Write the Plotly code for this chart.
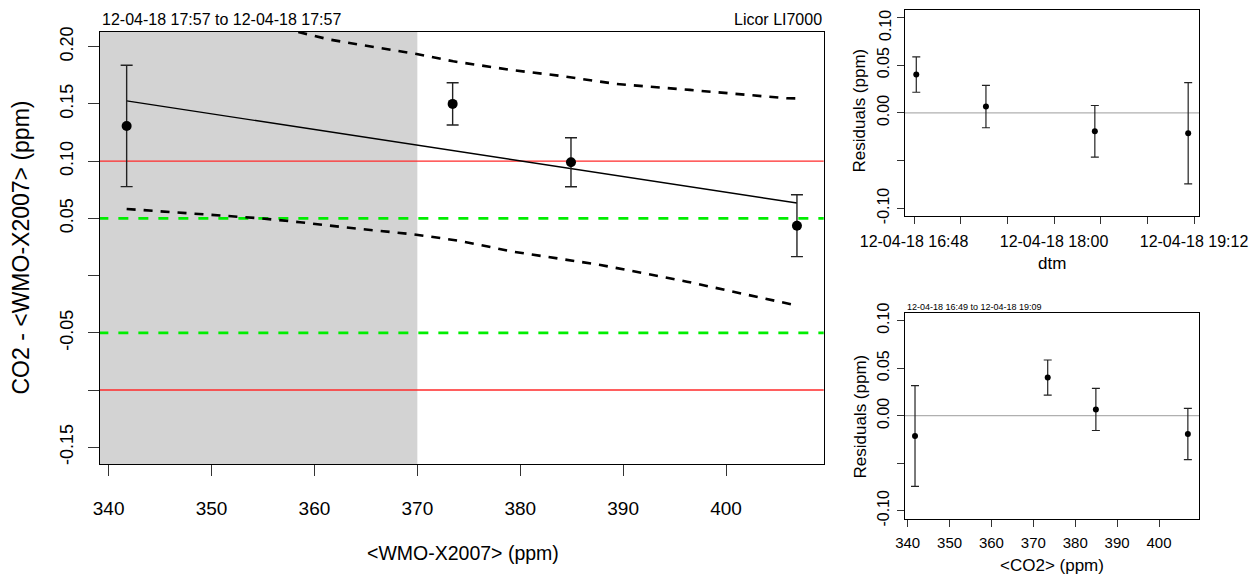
import plotly.graph_objects as go

OFF = 8                      # page body margin
W, H = 1260 - OFF, 574 - OFF

# ---- data ----
co2 = [341.75, 373.43, 384.93, 406.89]
diff = [0.1307, 0.1500, 0.0990, 0.0436]
diff_err = [0.0530, 0.0185, 0.0214, 0.0270]

fit_x = [341.75, 406.89]
fit_y = [0.1526, 0.0634]

upper_x = [358.43, 361.51, 364.74, 369.93, 373.49, 379.32, 383.69, 389.37, 396.49, 405.89, 406.89]
upper_y = [0.2128, 0.2061, 0.2012, 0.1936, 0.1872, 0.1794, 0.1747, 0.1674, 0.1622, 0.1549, 0.1548]
lower_x = [341.75, 347.6, 351.5, 354.7, 358.6, 363.8, 369.6, 374.0, 379.3, 387.8, 396.2, 406.9]
lower_y = [0.0582, 0.0545, 0.0524, 0.0501, 0.0466, 0.0413, 0.0361, 0.0305, 0.0209, 0.0093, -0.0053, -0.0262]

red_limits = [0.10, -0.10]
green_limits = [0.05, -0.05]
shade_until = 370

times = ["2018-04-12 19:09:00", "2018-04-12 16:49:10", "2018-04-12 17:25:00", "2018-04-12 18:21:00"]
resid = [-0.0213, 0.0401, 0.0066, -0.0193]
resid_err = [0.0530, 0.0185, 0.0222, 0.0270]

main_xticks = [340, 350, 360, 370, 380, 390, 400]
main_yticks = [0.20, 0.15, 0.10, 0.05, 0.00, -0.05, -0.10, -0.15]
main_yticktext = ["0.20", "0.15", "0.10", "0.05", "", "-0.05", "", "-0.15"]
res_yticks = [0.10, 0.05, 0.00, -0.05, -0.10]
res_yticktext = ["0.10", "0.05", "0.00", "", "-0.10"]
res_top_yticktext = ["", "0.05", "0.00", "", "-0.10"]   # top label drawn separately (page edge)
time_ticks = ["2018-04-12 16:48", "2018-04-12 17:12", "2018-04-12 17:36", "2018-04-12 18:00",
              "2018-04-12 18:24", "2018-04-12 18:48", "2018-04-12 19:12"]
time_ticktext = ["12-04-18 16:48", "", "", "12-04-18 18:00", "", "", "12-04-18 19:12"]
co2_ticks = [340, 350, 360, 370, 380, 390, 400]

FONT = "Liberation Sans, Arial, Helvetica, sans-serif"
ERRC = "#222222"

def px(x):
    return (x - OFF) / W

def py(y):
    return 1 - (y - OFF) / H

fig = go.Figure()

# main panel
for yv in red_limits:
    fig.add_trace(go.Scatter(x=[339.0, 409.7], y=[yv, yv], mode="lines",
                             line=dict(color="#ff2a2a", width=1.4), xaxis="x", yaxis="y", showlegend=False))
for yv in green_limits:
    fig.add_trace(go.Scatter(x=[339.0, 409.7], y=[yv, yv], mode="lines",
                             line=dict(color="#00ee00", width=2.8, dash="10px,10px"), xaxis="x", yaxis="y", showlegend=False))
fig.add_trace(go.Scatter(x=upper_x, y=upper_y, mode="lines",
                         line=dict(color="black", width=2.6, dash="9px,8px"), xaxis="x", yaxis="y", showlegend=False))
fig.add_trace(go.Scatter(x=lower_x, y=lower_y, mode="lines",
                         line=dict(color="black", width=2.6, dash="9px,8px"), xaxis="x", yaxis="y", showlegend=False))
fig.add_trace(go.Scatter(x=fit_x, y=fit_y, mode="lines",
                         line=dict(color="black", width=1.4), xaxis="x", yaxis="y", showlegend=False))
fig.add_trace(go.Scatter(x=co2, y=diff, mode="markers",
                         marker=dict(color="black", size=10),
                         error_y=dict(type="data", array=diff_err, color=ERRC, thickness=1.4, width=6),
                         xaxis="x", yaxis="y", showlegend=False))

# top right residuals vs time
fig.add_trace(go.Scatter(x=["2018-04-12 16:40", "2018-04-12 19:20"], y=[0, 0], mode="lines",
                         line=dict(color="#b0b0b0", width=1.2), xaxis="x2", yaxis="y2", showlegend=False))
fig.add_trace(go.Scatter(x=times, y=resid, mode="markers",
                         marker=dict(color="black", size=6),
                         error_y=dict(type="data", array=resid_err, color=ERRC, thickness=1.2, width=4),
                         xaxis="x2", yaxis="y2", showlegend=False))

# bottom right residuals vs co2
fig.add_trace(go.Scatter(x=[339, 410], y=[0, 0], mode="lines",
                         line=dict(color="#b0b0b0", width=1.2), xaxis="x3", yaxis="y3", showlegend=False))
fig.add_trace(go.Scatter(x=co2, y=resid, mode="markers",
                         marker=dict(color="black", size=6),
                         error_y=dict(type="data", array=resid_err, color=ERRC, thickness=1.2, width=4),
                         xaxis="x3", yaxis="y3", showlegend=False))

fig.add_shape(type="rect", xref="x", yref="y domain", x0=339.16, x1=shade_until, y0=0, y1=1,
              fillcolor="#d3d3d3", line=dict(width=0), layer="below")

axis_common = dict(showgrid=False, zeroline=False, showline=True, mirror=True, ticks="outside",
                   linecolor="black", tickcolor="#333333", automargin=False,
                   ticklabeloverflow="allow")

fig.update_layout(
    width=W, height=H, margin=dict(l=0, r=0, t=0, b=0, autoexpand=False),
    paper_bgcolor="white", plot_bgcolor="white",
    font=dict(family=FONT, color="black"),
    xaxis=dict(**axis_common, domain=[px(100), px(823.7)], range=[339.16, 409.49],
               tickvals=main_xticks, ticklen=11, tickwidth=1, linewidth=1.2,
               tickfont=dict(size=19), anchor="y", ticklabelstandoff=16),
    yaxis=dict(**axis_common, domain=[py(464), py(32)], range=[-0.1646, 0.2128],
               tickvals=main_yticks, ticktext=main_yticktext, ticklen=11, tickwidth=1, linewidth=1.2,
               tickangle=-90, tickfont=dict(size=18), anchor="x", ticklabelstandoff=8),
    xaxis2=dict(**axis_common, domain=[px(905), px(1199)], type="date",
                range=["2018-04-12 16:43:22", "2018-04-12 19:14:34"],
                tickvals=time_ticks, ticktext=time_ticktext, ticklen=7, tickwidth=1, linewidth=1,
                tickfont=dict(size=16), anchor="y2", ticklabelstandoff=4),
    yaxis2=dict(**axis_common, domain=[py(216), py(10)], range=[-0.108, 0.1077],
                tickvals=res_yticks, ticktext=res_top_yticktext, ticklen=7, tickwidth=1, linewidth=1,
                tickangle=-90, tickfont=dict(size=16), anchor="x2", ticklabelstandoff=2),
    xaxis3=dict(**axis_common, domain=[px(905), px(1199)], range=[339.36, 409.55],
                tickvals=co2_ticks, ticklen=7, tickwidth=1, linewidth=1,
                tickfont=dict(size=15), anchor="y3", ticklabelstandoff=3),
    yaxis3=dict(**axis_common, domain=[py(518.7), py(312.7)], range=[-0.1084, 0.1084],
                tickvals=res_yticks, ticktext=res_yticktext, ticklen=7, tickwidth=1, linewidth=1,
                tickangle=-90, tickfont=dict(size=16), anchor="x3", ticklabelstandoff=2),
)

ann = [
    dict(text="CO2 - &lt;WMO-X2007&gt; (ppm)", x=px(20.5), y=py(248), textangle=-90, size=23),
    dict(text="&lt;WMO-X2007&gt; (ppm)", x=px(463), y=py(553), size=19.5),
    dict(text="12-04-18 17:57 to 12-04-18 17:57", x=px(100), y=py(19), size=16, xanchor="left"),
    dict(text="Licor LI7000", x=px(823.7), y=py(19), size=16, xanchor="right"),
    dict(text="Residuals (ppm)", x=px(859.5), y=py(111), textangle=-90, size=17),
    dict(text="dtm", x=px(1052.3), y=py(263), size=17),
    dict(text="Residuals (ppm)", x=px(859.5), y=py(417), textangle=-90, size=17),
    dict(text="&lt;CO2&gt; (ppm)", x=px(1051.7), y=py(565), size=17),
    dict(text="12-04-18 16:49 to 12-04-18 19:09", x=px(905), y=py(307), size=9, xanchor="left"),
    dict(text=res_yticktext[0], x=px(886), y=py(25), textangle=-90, size=16),
]
for a in ann:
    fig.add_annotation(text=a["text"], x=a["x"], y=a["y"], xref="paper", yref="paper",
                       showarrow=False, textangle=a.get("textangle", 0),
                       xanchor=a.get("xanchor", "center"), yanchor="middle",
                       font=dict(size=a["size"], family=FONT, color="black"))

fig.write_html("out.html")
